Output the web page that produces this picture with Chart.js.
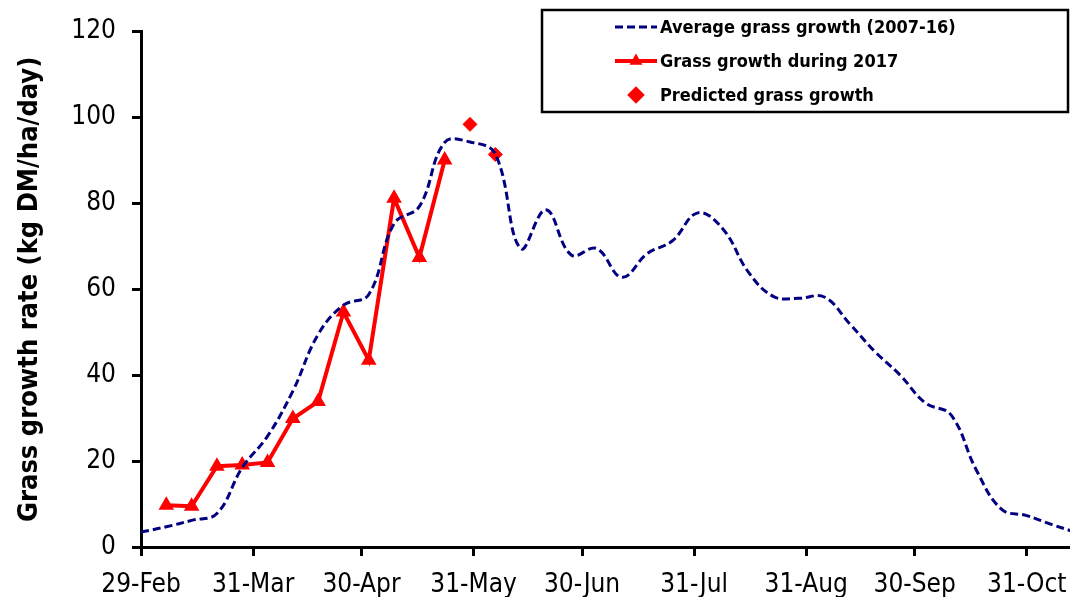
<!DOCTYPE html>
<html>
<head>
<meta charset="utf-8">
<script src="https://cdn.jsdelivr.net/npm/chart.js@4.4.1/dist/chart.umd.min.js"></script>
<style>
  html, body { margin: 0; padding: 0; background: #fff; overflow: hidden; width: 1070px; height: 597px; }
  #wrap { position: absolute; left: 0; top: 0; width: 1090px; height: 597px; }
</style>
</head>
<body>
<div id="wrap"><canvas id="c" width="1090" height="597"></canvas></div>
<script>
// X positions are days after 29-Feb
const tickDays = [0, 31, 61, 92, 122, 153, 184, 214, 245];
const tickLabels = ['29-Feb', '31-Mar', '30-Apr', '31-May', '30-Jun', '31-Jul', '31-Aug', '30-Sep', '31-Oct'];

const avgDays = [0, 7, 14, 21, 28, 35, 42, 49, 56, 63, 70, 77, 84, 91, 98, 105, 112, 119, 126, 133, 140, 147, 154, 161, 168, 175, 182, 189, 196, 203, 210, 217, 224, 231, 238, 245, 252, 259];
const avgValues = [3.5, 4.7, 6.2, 7.8, 18.5, 25.8, 36.3, 49.5, 56.3, 58.8, 75.3, 79.3, 94.2, 94.3, 91.5, 69.5, 78.5, 68.0, 69.5, 62.8, 68.3, 71.3, 77.8, 74.0, 64.0, 58.3, 57.9, 58.2, 52.0, 45.5, 40.0, 33.5, 30.8, 18.0, 8.8, 7.3, 5.2, 3.3];

const y2017Days = [7, 14, 21, 28, 35, 42, 49, 56, 63, 70, 77, 84];
const y2017Values = [9.7, 9.5, 18.8, 19.1, 19.7, 29.9, 33.9, 54.7, 43.5, 81.2, 67.4, 90.1];

const predDays = [91, 98];
const predValues = [98.4, 91.4];

const seriesNames = ['Average grass growth (2007-16)', 'Grass growth during 2017', 'Predicted grass growth'];

const FONT = "'DejaVu Sans Condensed', 'DejaVu Sans', sans-serif";
const toXY = (xs, ys) => xs.map((x, i) => ({ x: x, y: ys[i] }));

const legendBox = {
  id: 'legendBox',
  afterDraw(chart) {
    const ctx = chart.ctx;
    const L = 542, T = 10, R = 1068, B = 112;
    ctx.save();
    ctx.fillStyle = '#fff';
    ctx.fillRect(L, T, R - L, B - T);
    ctx.lineWidth = 2.5;
    ctx.strokeStyle = '#000';
    ctx.strokeRect(L, T, R - L, B - T);
    const rows = [27, 61, 95];
    chart.data.datasets.forEach((ds, i) => {
      const y = rows[i];
      if (ds.showLine !== false) {
        ctx.save();
        ctx.strokeStyle = ds.borderColor;
        ctx.lineWidth = ds.borderWidth;
        ctx.setLineDash(ds.borderDash || []);
        ctx.beginPath();
        ctx.moveTo(615, y);
        ctx.lineTo(657, y);
        ctx.stroke();
        ctx.restore();
      }
      if (ds.pointRadius > 0) {
        ctx.save();
        ctx.fillStyle = ds.pointBackgroundColor;
        ctx.strokeStyle = ds.pointBorderColor;
        Chart.helpers.drawPoint(ctx, { pointStyle: ds.pointStyle, radius: ds.pointRadius, rotation: 0, borderWidth: 1 }, 636, y);
        ctx.restore();
      }
      ctx.fillStyle = '#000';
      ctx.font = 'bold 18px ' + FONT;
      ctx.textBaseline = 'middle';
      ctx.textAlign = 'left';
      ctx.fillText(ds.label, 660, y + 1);
    });
    ctx.restore();
  }
};

new Chart(document.getElementById('c'), {
  type: 'line',
  data: {
    datasets: [
      {
        label: seriesNames[0],
        data: toXY(avgDays, avgValues),
        borderColor: '#000080',
        borderWidth: 3,
        borderDash: [8, 4],
        pointRadius: 0,
        tension: 0.4,
        fill: false
      },
      {
        label: seriesNames[1],
        data: toXY(y2017Days, y2017Values),
        borderColor: '#ff0000',
        backgroundColor: '#ff0000',
        borderWidth: 4,
        pointStyle: 'triangle',
        pointRadius: 5,
        pointBackgroundColor: '#ff0000',
        pointBorderColor: '#ff0000',
        tension: 0,
        fill: false
      },
      {
        label: seriesNames[2],
        data: toXY(predDays, predValues),
        showLine: false,
        borderColor: '#ff0000',
        backgroundColor: '#ff0000',
        pointStyle: 'rectRot',
        pointRadius: 7,
        pointBackgroundColor: '#ff0000',
        pointBorderColor: '#ff0000',
        fill: false
      }
    ]
  },
  options: {
    responsive: false,
    animation: false,
    layout: { padding: { left: 0, right: 0, top: 27, bottom: 0 } },
    plugins: { legend: { display: false }, tooltip: { enabled: false } },
    scales: {
      x: {
        type: 'linear',
        min: 0,
        max: 260,
        afterBuildTicks: (s) => { s.ticks = tickDays.map(v => ({ value: v })); },
        afterFit: (s) => { s.height = 50; },
        ticks: {
          autoSkip: false,
          maxRotation: 0,
          padding: 14,
          color: '#000',
          font: { family: FONT, size: 26 },
          callback: (v) => tickLabels[tickDays.indexOf(v)]
        },
        grid: { drawOnChartArea: false, drawTicks: true, tickLength: 9, tickWidth: 3, tickColor: '#000' },
        border: { display: true, color: '#000', width: 3 }
      },
      y: {
        min: 0,
        max: 120,
        afterFit: (s) => { s.width = 141; },
        ticks: {
          stepSize: 20,
          padding: 16,
          color: '#000',
          font: { family: FONT, size: 26 }
        },
        title: {
          display: true,
          text: 'Grass growth rate (kg DM/ha/day)',
          color: '#000',
          font: { family: FONT, size: 27, weight: 'bold' },
          padding: { top: 14, bottom: 4 }
        },
        grid: { drawOnChartArea: false, drawTicks: true, tickLength: 9, tickWidth: 3, tickColor: '#000' },
        border: { display: true, color: '#000', width: 3 }
      }
    }
  },
  plugins: [legendBox]
});
</script>
</body>
</html>
